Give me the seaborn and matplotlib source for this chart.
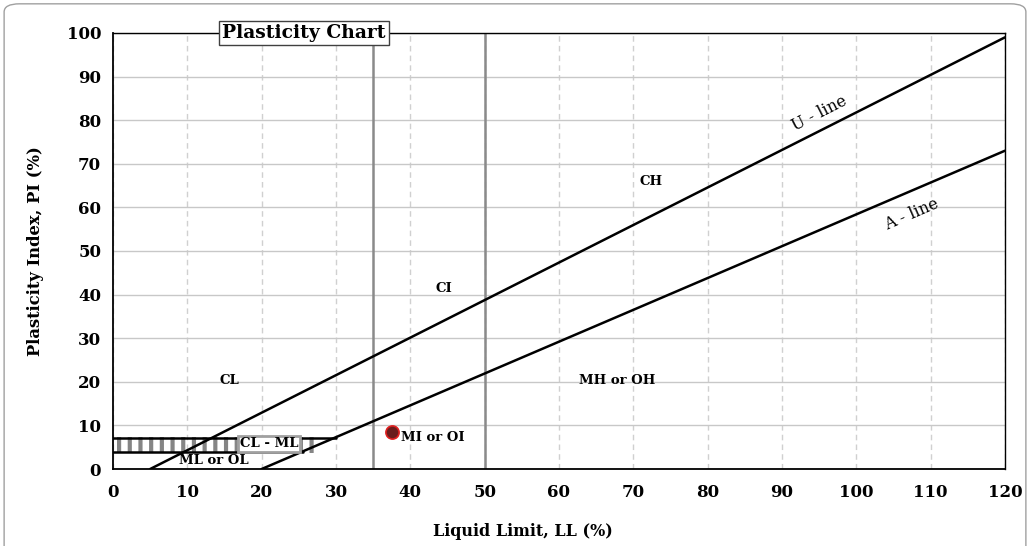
import numpy as np
import pandas as pd
import matplotlib
matplotlib.use("Agg")
import matplotlib.pyplot as plt
import seaborn as sns
from matplotlib.patches import FancyBboxPatch
from matplotlib.ticker import MultipleLocator

# ---- data ----
u_line_ll = [5, 120]
u_line_pi = [0, 99]
a_line_ll = [20, 120]
a_line_pi = [0, 73]
divider_ll = [35, 50]
band_upper_ll = [0, 30]
band_upper_pi = [7, 7]
band_lower_ll = [0, 25.5]
band_lower_pi = [4, 4]
band_hatch_ll = [0.6, 27]
band_hatch_pi = [5.5, 5.5]
sample_ll = [37.5]
sample_pi = [8.5]
zone_labels = ["CL", "CI", "CH", "MH or OH", "ML or OL"]
zone_ll = [15.7, 44.5, 72.4, 67.8, 13.6]
zone_pi = [20.4, 41.3, 66.0, 20.4, 2.0]
x_ticks = list(range(0, 121, 10))
y_ticks = list(range(0, 101, 10))

sns.set_style("white")
plt.rcParams['font.family'] = ['DejaVu Serif']
plt.rcParams['lines.scale_dashes'] = False
plt.rcParams['text.color'] = 'black'
plt.rcParams['axes.labelcolor'] = 'black'

fig = plt.figure(figsize=(10.3, 5.46), dpi=100)
fig.patches.append(FancyBboxPatch((0.004, -0.05), 0.992, 1.043,
                                  boxstyle="round,pad=0,rounding_size=0.015",
                                  transform=fig.transFigure, facecolor="white",
                                  edgecolor="#a0a0a0", lw=1.0, zorder=-10))
ax = fig.add_axes([0.1097, 0.141, 0.866, 0.7986])
ax.set_facecolor("white")

ax.set_xlim(0, 120)
ax.set_ylim(0, 100)
ax.xaxis.set_major_locator(MultipleLocator(10))
ax.yaxis.set_major_locator(MultipleLocator(10))
ax.xaxis.set_minor_locator(MultipleLocator(2))
ax.yaxis.set_minor_locator(MultipleLocator(2))
ax.set_axisbelow(True)
ax.grid(axis='y', which='major', color='#c8c8c8', lw=1.0, ls='-')
ax.grid(axis='x', which='major', color='#d0d0d0', lw=1.0, ls=(0, (4, 3)))

# hatch band
ax.plot(band_hatch_ll, band_hatch_pi, color='#858585', lw=11.5,
        dashes=(3.0, 4.7), solid_capstyle='butt', dash_capstyle='butt', zorder=2)
sns.lineplot(x=band_upper_ll, y=band_upper_pi, ax=ax, color='black', lw=1.8, zorder=3)
sns.lineplot(x=band_lower_ll, y=band_lower_pi, ax=ax, color='black', lw=1.8, zorder=3)

# divider lines
for v in divider_ll:
    ax.axvline(v, color='#8a8a8a', lw=1.8, zorder=2)

sns.lineplot(x=u_line_ll, y=u_line_pi, ax=ax, color='black', lw=1.8, zorder=4)
sns.lineplot(x=a_line_ll, y=a_line_pi, ax=ax, color='black', lw=1.8, zorder=4)

sns.scatterplot(x=sample_ll, y=sample_pi, ax=ax, s=90, color='#6b1c1c',
                edgecolor='#e02020', linewidth=1.2, zorder=6)

for lab, x, y in zip(zone_labels, zone_ll, zone_pi):
    ax.text(x, y, lab, fontsize=9.5, fontweight='bold', ha='center', va='center', zorder=7)
ax.text(38.8, 7.3, "MI or OI", fontsize=9.5, fontweight='bold', ha='left', va='center', zorder=7)
ax.text(21.0, 5.8, "CL - ML", fontsize=9.5, fontweight='bold', ha='center', va='center', zorder=7,
        bbox=dict(boxstyle='square,pad=0.12', facecolor='white', edgecolor='#a0a0a0', lw=2))

ax.text(95.0, 81.5, "U - line", fontsize=11.5, rotation=27, ha='center', va='center', zorder=7)
ax.text(107.5, 58.5, "A - line", fontsize=11.5, rotation=23.5, ha='center', va='center', zorder=7)

ax.text(25.7, 100, "Plasticity Chart", fontsize=13.5, fontweight='bold', ha='center', va='center',
        zorder=8, bbox=dict(boxstyle='square,pad=0.15', facecolor='white', edgecolor='#404040', lw=1))

ax.set_xticks(x_ticks)
ax.set_yticks(y_ticks)
ax.tick_params(axis='both', which='major', direction='inout', length=9, width=1, labelsize=12,
               colors='black')
ax.tick_params(axis='both', which='minor', direction='in', length=5, width=1, colors='black')
for lab in ax.get_xticklabels() + ax.get_yticklabels():
    lab.set_fontweight('bold')
ax.tick_params(axis='x', pad=6)
ax.tick_params(axis='y', pad=4)

for s in ax.spines.values():
    s.set_visible(True)
    s.set_color('black')
    s.set_linewidth(1.0)
ax.spines['left'].set_linewidth(1.3)
ax.spines['bottom'].set_linewidth(1.3)

ax.set_xlabel("Liquid Limit, LL (%)", fontsize=11.5, fontweight='bold')
ax.set_ylabel("Plasticity Index, PI (%)", fontsize=11.8, fontweight='bold')
ax.xaxis.set_label_coords(0.459, -0.124)
ax.yaxis.set_label_coords(-0.077, 0.5)

fig.savefig("out.png", dpi=100)
